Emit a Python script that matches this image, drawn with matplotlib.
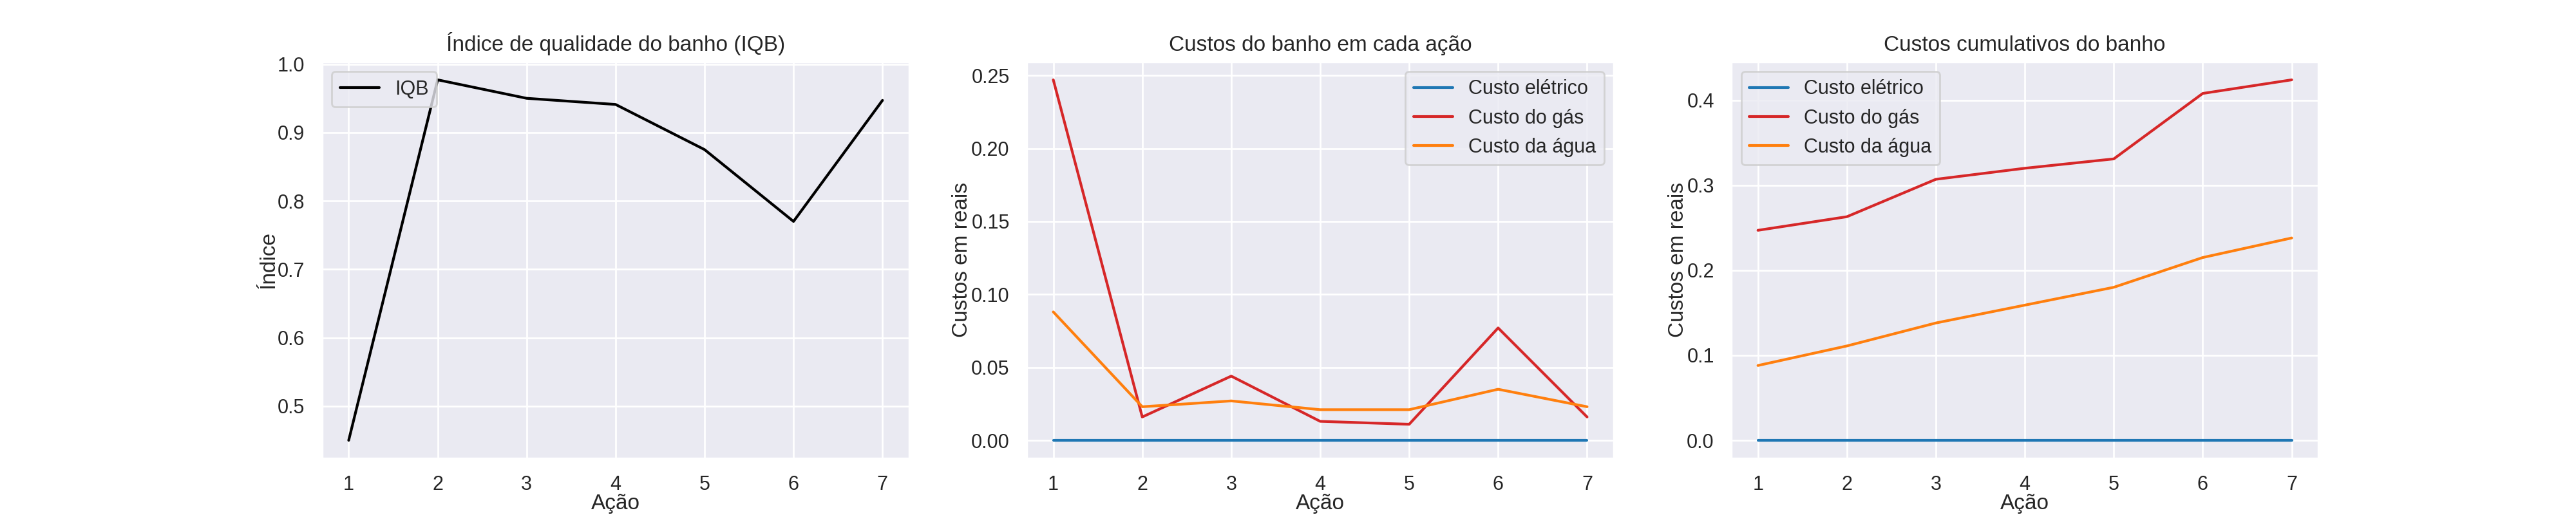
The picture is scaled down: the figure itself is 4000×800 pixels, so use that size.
import matplotlib
matplotlib.use('Agg')
import matplotlib.pyplot as plt
import seaborn as sns

sns.set_theme()
plt.rcParams['font.family'] = ['Liberation Sans', 'DejaVu Sans']
plt.rcParams['axes.labelpad'] = -0.5

acoes = [1, 2, 3, 4, 5, 6, 7]

# indice de qualidade do banho
iqb = [0.450, 0.977, 0.950, 0.941, 0.875, 0.770, 0.947]

# custos em cada acao
custo_eletrico = [0, 0, 0, 0, 0, 0, 0]
custo_gas = [0.247, 0.016, 0.044, 0.013, 0.011, 0.077, 0.016]
custo_agua = [0.088, 0.023, 0.027, 0.021, 0.021, 0.035, 0.023]

# custos acumulados
cum_eletrico = [0, 0, 0, 0, 0, 0, 0]
cum_gas = [0.247, 0.263, 0.307, 0.320, 0.331, 0.408, 0.424]
cum_agua = [0.088, 0.111, 0.138, 0.159, 0.180, 0.215, 0.238]

fig, axs = plt.subplots(1, 3, figsize=(20, 4), dpi=200)

axs[0].plot(acoes, iqb, color='black', label='IQB')
axs[0].set_title('Índice de qualidade do banho (IQB)')
axs[0].set_xlabel('Ação')
axs[0].set_ylabel('Índice')
axs[0].legend(loc='upper left')

axs[1].plot(acoes, custo_eletrico, color='tab:blue', label='Custo elétrico')
axs[1].plot(acoes, custo_gas, color='tab:red', label='Custo do gás')
axs[1].plot(acoes, custo_agua, color='tab:orange', label='Custo da água')
axs[1].set_title('Custos do banho em cada ação')
axs[1].set_xlabel('Ação')
axs[1].set_ylabel('Custos em reais')
axs[1].legend(loc='upper right')

axs[2].plot(acoes, cum_eletrico, color='tab:blue', label='Custo elétrico')
axs[2].plot(acoes, cum_gas, color='tab:red', label='Custo do gás')
axs[2].plot(acoes, cum_agua, color='tab:orange', label='Custo da água')
axs[2].set_title('Custos cumulativos do banho')
axs[2].set_xlabel('Ação')
axs[2].set_ylabel('Custos em reais')
axs[2].legend(loc='upper left')

plt.savefig('out.png')
